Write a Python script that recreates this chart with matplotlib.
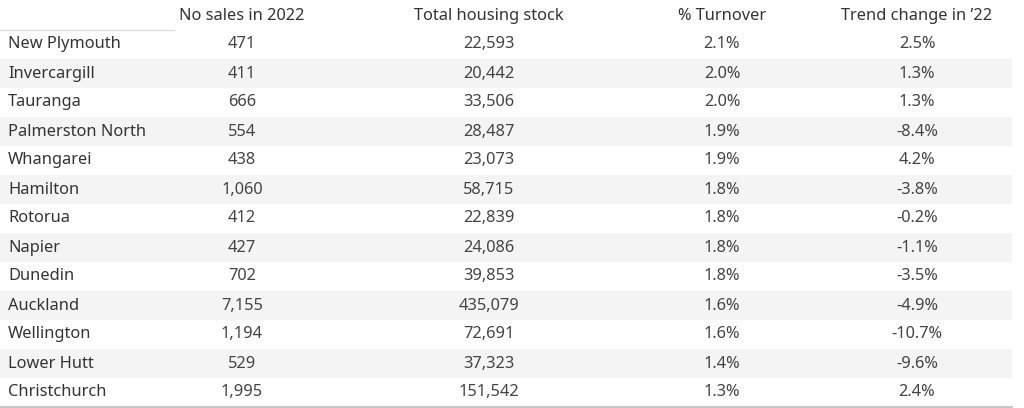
import matplotlib
matplotlib.use("Agg")
import matplotlib.pyplot as plt
from matplotlib.patches import Rectangle

cities = ["New Plymouth","Invercargill","Tauranga","Palmerston North","Whangarei","Hamilton",
          "Rotorua","Napier","Dunedin","Auckland","Wellington","Lower Hutt","Christchurch"]
sales = ["471","411","666","554","438","1,060","412","427","702","7,155","1,194","529","1,995"]
stock = ["22,593","20,442","33,506","28,487","23,073","58,715","22,839","24,086","39,853",
         "435,079","72,691","37,323","151,542"]
turnover = ["2.1%","2.0%","2.0%","1.9%","1.9%","1.8%","1.8%","1.8%","1.8%","1.6%","1.6%","1.4%","1.3%"]
trend = ["2.5%","1.3%","1.3%","-8.4%","4.2%","-3.8%","-0.2%","-1.1%","-3.5%","-4.9%","-10.7%","-9.6%","2.4%"]
headers = ["No sales in 2022","Total housing stock","% Turnover","Trend change in \u201922"]

plt.rcParams['font.family'] = ['Noto Sans', 'DejaVu Sans']
fig = plt.figure(figsize=(10.24, 4.08), dpi=100)
ax = fig.add_axes([0, 0, 1, 1])
ax.set_xlim(0, 1024); ax.set_ylim(408, 0); ax.axis('off')

top, rh = 30, 29
col_x = [242, 489, 722, 917]
fs = 11.8
for i, c in enumerate(cities):
    y0 = top + i * rh
    if i % 2 == 1:
        ax.add_patch(Rectangle((0, y0), 1012, rh, color='#f4f4f4', lw=0))
    yc = y0 + rh / 2
    ax.text(8, yc, c, fontsize=fs, color='#333333', va='center', ha='left', fontweight='medium')
    for x, v in zip(col_x, [sales[i], stock[i], turnover[i], trend[i]]):
        ax.text(x, yc, v, fontsize=fs, color='#444444', va='center', ha='center')
for x, h in zip(col_x, headers):
    ax.text(x, 16, h, fontsize=fs, color='#333333', va='center', ha='center', fontweight='medium')
ax.plot([0, 174], [30, 30], color='#dddddd', lw=1)
ax.plot([0, 1012], [407, 407], color='#bbbbbb', lw=1.2)
fig.savefig("out.png", dpi=100)
